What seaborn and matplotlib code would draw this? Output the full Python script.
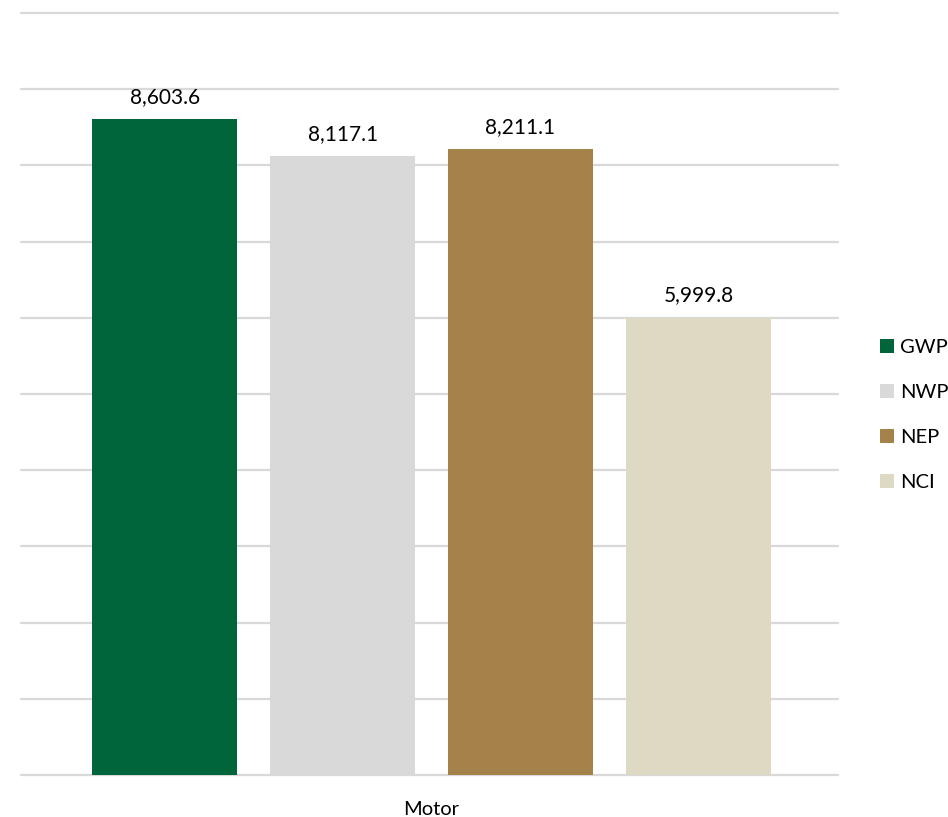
import matplotlib
matplotlib.use("Agg")
import matplotlib.pyplot as plt
import seaborn as sns
import pandas as pd

# Data
categories = ["Motor"]
series = ["GWP", "NWP", "NEP", "NCI"]
values = [8603.6, 8117.1, 8211.1, 5999.8]
colors = ["#00653A", "#D9D9D9", "#A5824A", "#DED9C3"]
yticks = list(range(0, 10001, 1000))

df = pd.DataFrame({
    "category": categories * len(series),
    "series": series,
    "value": values,
})

sns.set_theme(style="white")
plt.rcParams["font.family"] = ["Lato", "DejaVu Sans"]

fig = plt.figure(figsize=(9.48, 8.17), dpi=100)
ax = fig.add_axes([0.0222, 0.0514, 0.8618, 0.9327])

sns.barplot(
    data=df, x="category", y="value", hue="series",
    palette=colors, saturation=1, width=0.871, gap=0.185,
    ax=ax, legend=True,
)
for p in ax.patches:
    p.set_edgecolor("none")

# Value labels above each bar
for cont in ax.containers:
    ax.bar_label(cont, labels=[f"{v:,.1f}" for v in cont.datavalues],
                 padding=9, fontsize=15, color="#000000")

ax.set_ylim(0, 10000)
ax.set_xlim(-0.5025, 0.4975)
ax.set_yticks(yticks)
ax.set_yticklabels([])
ax.yaxis.grid(True, color="#D9D9D9", linewidth=1.6)
for gl in ax.get_ygridlines():
    gl.set_clip_on(False)
ax.set_axisbelow(True)
for s in ax.spines.values():
    s.set_visible(False)
ax.tick_params(axis="both", length=0)
ax.tick_params(axis="x", pad=19, labelsize=14.5, labelcolor="#000000")
ax.set_xlabel("")
ax.set_ylabel("")

leg = ax.legend(
    loc="center left", bbox_to_anchor=(0.928, 0.492),
    bbox_transform=fig.transFigure, frameon=False,
    fontsize=14.5, handlelength=0.7, handleheight=0.7,
    handletextpad=0.3, labelspacing=1.38, borderpad=0, borderaxespad=0,
)
for t in leg.get_texts():
    t.set_color("#000000")

fig.savefig("out.png", dpi=100)
